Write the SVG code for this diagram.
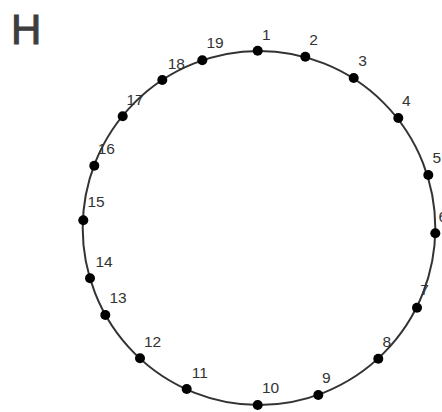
<svg xmlns="http://www.w3.org/2000/svg" width="442" height="412" viewBox="0 0 442 412">
<style>
.ring{fill:none;stroke:#333;stroke-width:2}
.dot{fill:#000}
.lbl{font-family:"Liberation Sans",Arial,sans-serif;font-size:15.5px;fill:#333}
.panel{font-family:"Liberation Sans",Arial,sans-serif;font-size:42px;fill:#3d3d3d;stroke:#3d3d3d;stroke-width:1}
</style>
<rect width="442" height="412" fill="#fff"/>
<text class="panel" x="11" y="43.5">H</text>
<g id="connectors">
<ellipse class="ring" cx="259" cy="228" rx="176.3" ry="177"/>
</g>
<g id="n1"><circle class="dot" cx="257.7" cy="50.8" r="5"/><text class="lbl" x="262" y="39.5">1</text></g>
<g id="n2"><circle class="dot" cx="305.3" cy="56.8" r="5"/><text class="lbl" x="309.3" y="45">2</text></g>
<g id="n3"><circle class="dot" cx="353.7" cy="78" r="5"/><text class="lbl" x="358.3" y="66">3</text></g>
<g id="n4"><circle class="dot" cx="398.3" cy="118" r="5"/><text class="lbl" x="402" y="106">4</text></g>
<g id="n5"><circle class="dot" cx="428.3" cy="175" r="5"/><text class="lbl" x="432.6" y="163">5</text></g>
<g id="n6"><circle class="dot" cx="435.3" cy="233.3" r="5"/><text class="lbl" x="438.6" y="222">6</text></g>
<g id="n7"><circle class="dot" cx="417" cy="307.7" r="5"/><text class="lbl" x="420.3" y="295">7</text></g>
<g id="n8"><circle class="dot" cx="378.3" cy="358.7" r="5"/><text class="lbl" x="382.6" y="347">8</text></g>
<g id="n9"><circle class="dot" cx="318.3" cy="395" r="5"/><text class="lbl" x="322" y="383">9</text></g>
<g id="n10"><circle class="dot" cx="257.7" cy="405" r="5"/><text class="lbl" x="262" y="393">10</text></g>
<g id="n11"><circle class="dot" cx="186.7" cy="389" r="5"/><text class="lbl" x="191.7" y="378">11</text></g>
<g id="n12"><circle class="dot" cx="140" cy="358.3" r="5"/><text class="lbl" x="144" y="347">12</text></g>
<g id="n13"><circle class="dot" cx="105.3" cy="315" r="5"/><text class="lbl" x="109.4" y="303">13</text></g>
<g id="n14"><circle class="dot" cx="90" cy="278.3" r="5"/><text class="lbl" x="95.5" y="266.5">14</text></g>
<g id="n15"><circle class="dot" cx="83.3" cy="220.3" r="5"/><text class="lbl" x="87.5" y="207">15</text></g>
<g id="n16"><circle class="dot" cx="94.3" cy="165.7" r="5"/><text class="lbl" x="97.7" y="154">16</text></g>
<g id="n17"><circle class="dot" cx="122.7" cy="116.3" r="5"/><text class="lbl" x="126.4" y="105">17</text></g>
<g id="n18"><circle class="dot" cx="162.3" cy="80" r="5"/><text class="lbl" x="167.7" y="69">18</text></g>
<g id="n19"><circle class="dot" cx="202.3" cy="60.3" r="5"/><text class="lbl" x="206.5" y="48">19</text></g>
</svg>
